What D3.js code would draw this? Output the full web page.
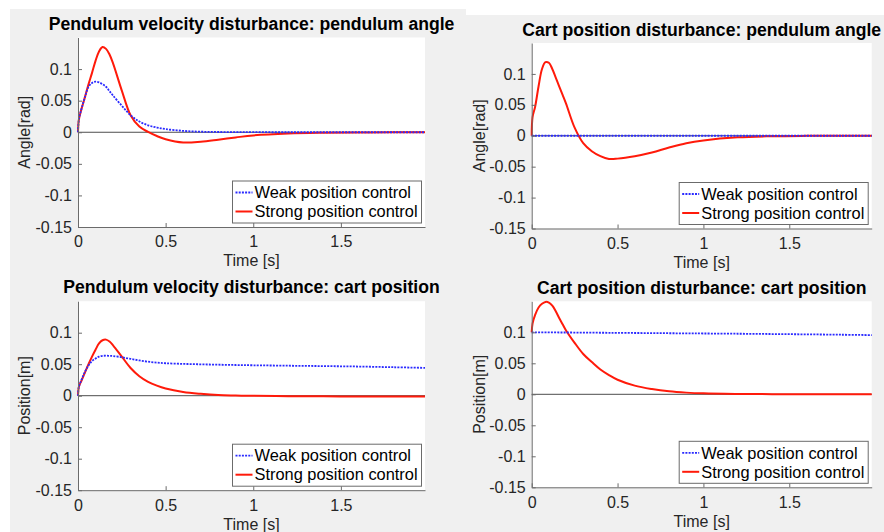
<!DOCTYPE html>
<html>
<head>
<meta charset="utf-8">
<title>Pendulum disturbance responses</title>
<style>
  body { margin: 0; background: #ffffff; }
  svg { display: block; font-family: "Liberation Sans", Arial, Helvetica, sans-serif; }
  .tick text { fill: #262626; }
</style>
</head>
<body>
<div id="chart"></div>
<script src="https://cdnjs.cloudflare.com/ajax/libs/d3/7.8.5/d3.min.js"></script>
<script>
// sample times shared by every series [s]
const time = [0, 0.005, 0.02, 0.04, 0.06, 0.08, 0.1, 0.12, 0.14, 0.16, 0.18, 0.2, 0.25, 0.3, 0.35,
  0.4, 0.45, 0.5, 0.6, 0.7, 0.8, 0.9, 1.0, 1.2, 1.4, 1.6, 1.8, 1.98]

// pendulum velocity disturbance -> pendulum angle [rad]
const velAngleWeak = [0, 0.02, 0.037, 0.056, 0.072, 0.078, 0.08, 0.079, 0.076, 0.072, 0.065, 0.058, 0.042, 0.027, 0.017,
  0.011, 0.0075, 0.005, 0.0022, 0.0009, 0.0004, 0.0002, 0.0001, 0, 0, 0, 0, 0]
const velAngleStrong = [0, 0.02, 0.037, 0.056, 0.076, 0.094, 0.113, 0.128, 0.135, 0.132, 0.123, 0.109, 0.066, 0.027, 0.009,
  0.0005, -0.006, -0.011, -0.0162, -0.015, -0.0118, -0.0082, -0.005, -0.002, -0.0008, -0.0003, -0.0001, 0]

// cart position disturbance -> pendulum angle [rad]
const cartAngleWeak = [0, 0, 0, 0, 0, 0, 0, 0, 0, 0, 0, 0, 0, 0, 0,
  0, 0, 0, 0, 0, 0, 0, 0, 0, 0, 0, 0, 0]
const cartAngleStrong = [0, 0.03, 0.047, 0.08, 0.108, 0.119, 0.118, 0.108, 0.094, 0.08, 0.066, 0.052, 0.013, -0.012, -0.025,
  -0.033, -0.0375, -0.037, -0.033, -0.027, -0.019, -0.012, -0.0075, -0.0025, -0.0008, -0.0002, 0, 0]

// pendulum velocity disturbance -> cart position [m]
const velPosWeak = [0, 0.014, 0.025, 0.038, 0.048, 0.055, 0.059, 0.062, 0.0632, 0.0635, 0.0633, 0.063, 0.061, 0.0585, 0.056,
  0.054, 0.0525, 0.0515, 0.0505, 0.0498, 0.0492, 0.0487, 0.0483, 0.0476, 0.047, 0.0463, 0.0452, 0.0442]
const velPosStrong = [0, 0.014, 0.024, 0.037, 0.05, 0.062, 0.073, 0.083, 0.088, 0.089, 0.086, 0.08, 0.062, 0.044, 0.031,
  0.022, 0.016, 0.0115, 0.006, 0.003, 0.001, 0.0003, -0.0002, -0.0008, -0.001, -0.0012, -0.0012, -0.0013]

// cart position disturbance -> cart position [m]
const cartPosWeak = [0.1, 0.1, 0.1, 0.0999, 0.0999, 0.0999, 0.0998, 0.0998, 0.0998, 0.0997, 0.0997, 0.0997, 0.0996, 0.0995, 0.0994,
  0.0993, 0.0992, 0.0991, 0.0989, 0.0987, 0.0985, 0.0983, 0.0981, 0.0977, 0.0972, 0.0967, 0.0961, 0.0955]
const cartPosStrong = [0.1, 0.114, 0.128, 0.14, 0.146, 0.149, 0.148, 0.143, 0.134, 0.123, 0.113, 0.103, 0.083, 0.065, 0.052,
  0.04, 0.031, 0.0235, 0.014, 0.0085, 0.0048, 0.0027, 0.0015, 0.0006, 0.0002, 0, 0, 0]

const seriesNames = ["Weak position control", "Strong position control"]
const xTicks = [0, 0.5, 1, 1.5]
const yTicks = [-0.15, -0.1, -0.05, 0, 0.05, 0.1]

const titles = [
  "Pendulum velocity disturbance: pendulum angle",
  "Cart position disturbance: pendulum angle",
  "Pendulum velocity disturbance: cart position",
  "Cart position disturbance: cart position"
]
const yLabels = ["Angle[rad]", "Angle[rad]", "Position[m]", "Position[m]"]
const weakSeries = [velAngleWeak, cartAngleWeak, velPosWeak, cartPosWeak]
const strongSeries = [velAngleStrong, cartAngleStrong, velPosStrong, cartPosStrong]

// layout of the four screenshots (pixels)
const boxes = [
  { left: 78, right: 425, top: 37.5, bottom: 227, titleY: 29.5, xlabY: 265.5, ylabX: 29.5 },
  { left: 531.7, right: 871.7, top: 43, bottom: 228.5, titleY: 36, xlabY: 267.5, ylabX: 484.5 },
  { left: 78, right: 425, top: 301.2, bottom: 490.2, titleY: 292.6, xlabY: 530, ylabX: 29.5 },
  { left: 531.7, right: 871.7, top: 301.3, bottom: 487.3, titleY: 294.3, xlabY: 526.5, ylabX: 485 }
]

const W = 884, H = 532
const svg = d3.select("#chart").append("svg")
  .attr("width", W)
  .attr("height", H)

// grey figure backgrounds (two overlapping screenshots per row)
svg.append("rect").attr("x", 10).attr("y", 9).attr("width", 456).attr("height", H - 9).attr("fill", "#f0f0f0")
svg.append("rect").attr("x", 425).attr("y", 15).attr("width", W - 425).attr("height", H - 15).attr("fill", "#f0f0f0")

const colors = { weak: "#2a2aff", strong: "#ff1a0a" }

boxes.forEach((b, i) => {
  const x = d3.scaleLinear().domain([0, 1.98]).range([b.left, b.right])
  const y = d3.scaleLinear().domain([-0.15, 0.15]).range([b.bottom, b.top])
  const g = svg.append("g")

  g.append("rect")
    .attr("x", b.left).attr("y", b.top)
    .attr("width", b.right - b.left).attr("height", b.bottom - b.top)
    .attr("fill", "#ffffff")

  // zero reference line
  g.append("line")
    .attr("x1", x(0)).attr("x2", x(1.98))
    .attr("y1", y(0)).attr("y2", y(0))
    .attr("stroke", "#4d4d4d").attr("stroke-width", 1)

  const line = d3.line()
    .x((d, k) => x(time[k]))
    .y(d => y(d))
    .curve(d3.curveCatmullRom.alpha(0.5))

  g.append("path")
    .attr("d", line(strongSeries[i]))
    .attr("fill", "none")
    .attr("stroke", colors.strong)
    .attr("stroke-width", 2)

  g.append("path")
    .attr("d", line(weakSeries[i]))
    .attr("fill", "none")
    .attr("stroke", colors.weak)
    .attr("stroke-width", 1.8)
    .attr("stroke-dasharray", "2,1.2")

  // axes, ticks pointing inwards like MATLAB
  const xAxis = g.append("g")
    .attr("transform", `translate(0,${b.bottom})`)
    .call(d3.axisBottom(x).tickValues(xTicks).tickSize(-4).tickSizeOuter(0).tickPadding(9).tickFormat(d => String(d)))
  const yAxis = g.append("g")
    .attr("transform", `translate(${b.left},0)`)
    .call(d3.axisLeft(y).tickValues(yTicks).tickSize(-4).tickSizeOuter(0).tickPadding(6).tickFormat(d => String(d)))

  ;[xAxis, yAxis].forEach(a => {
    a.attr("font-family", null).attr("font-size", 16)
    a.select(".domain").attr("stroke", "#6b6b6b")
    a.selectAll(".tick line").attr("stroke", "#6b6b6b")
  })

  g.append("text")
    .attr("x", (b.left + b.right) / 2)
    .attr("y", b.titleY)
    .attr("text-anchor", "middle")
    .attr("font-weight", "bold")
    .attr("font-size", 17.6)
    .attr("fill", "#000")
    .text(titles[i])

  g.append("text")
    .attr("x", (b.left + b.right) / 2)
    .attr("y", b.xlabY)
    .attr("text-anchor", "middle")
    .attr("font-size", 16)
    .attr("fill", "#262626")
    .text("Time [s]")

  g.append("text")
    .attr("transform", `translate(${b.ylabX},${(b.top + b.bottom) / 2}) rotate(-90)`)
    .attr("text-anchor", "middle")
    .attr("font-size", 16)
    .attr("fill", "#262626")
    .text(yLabels[i])

  // legend
  const lw = 189, lh = 42
  const lx = b.right - 3.5 - lw, ly = b.bottom - 4 - lh
  const legend = g.append("g").attr("transform", `translate(${lx},${ly})`)
  legend.append("rect")
    .attr("width", lw).attr("height", lh)
    .attr("fill", "#ffffff").attr("stroke", "#6b6b6b").attr("stroke-width", 1)

  const items = legend.selectAll("g.item")
    .data(seriesNames)
    .join("g")
    .attr("class", "item")
    .attr("transform", (d, k) => `translate(0,${11.5 + k * 19})`)

  items.append("line")
    .attr("x1", 3).attr("x2", 20)
    .attr("stroke", (d, k) => k === 0 ? colors.weak : colors.strong)
    .attr("stroke-width", (d, k) => k === 0 ? 1.8 : 2)
    .attr("stroke-dasharray", (d, k) => k === 0 ? "2,1.2" : null)

  items.append("text")
    .attr("x", 22)
    .attr("dy", "0.35em")
    .attr("font-size", 16.4)
    .attr("fill", "#000")
    .text(d => d)
})
</script>
</body>
</html>
